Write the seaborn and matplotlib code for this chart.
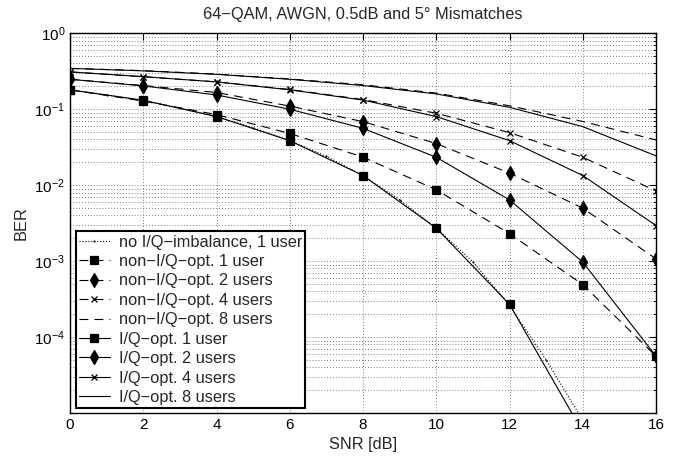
import numpy as np
import matplotlib
matplotlib.use('Agg')
import matplotlib.pyplot as plt
import seaborn as sns
from matplotlib.ticker import LogLocator, NullFormatter

# data (BER vs SNR)
snr = [0, 2, 4, 6, 8, 10, 12, 14, 16]
snr_fine = [0, 1, 2, 3, 4, 5, 6, 7, 8, 9, 10, 11, 12, 13, 14]

no_iq_1 = [0.18, 0.155, 0.131, 0.104, 0.080, 0.057, 0.0386, 0.024, 0.0134, 0.0064,
           0.00272, 0.00098, 0.00026, 5e-5, 8e-6]

non_iq_1 = [0.18, 0.128, 0.085, 0.048, 0.0234, 0.0087, 0.0023, 4.9e-4, 5.6e-5]
non_iq_2 = [0.248, 0.205, 0.166, 0.11, 0.0687, 0.0353, 0.0144, 0.00498, 0.00107]
non_iq_4 = [0.31, 0.268, 0.229, 0.182, 0.134, 0.0886, 0.0492, 0.0233, 0.0084]
non_iq_8 = [0.345, 0.322, 0.29, 0.25, 0.21, 0.163, 0.111, 0.069, 0.0394]

iq_1 = [0.18, 0.131, 0.080, 0.0386, 0.0134, 0.00272, 0.00027, 5.6e-6, np.nan]
iq_2 = [0.248, 0.203, 0.154, 0.1, 0.056, 0.0233, 0.0064, 9.7e-4, 5.6e-5]
iq_4 = [0.31, 0.268, 0.229, 0.18, 0.132, 0.080, 0.0386, 0.0134, 0.00294]
iq_8 = [0.345, 0.32, 0.288, 0.248, 0.205, 0.159, 0.106, 0.059, 0.0243]

sns.set_theme(style='white')
plt.rcParams['font.family'] = ['Liberation Sans', 'DejaVu Sans']
plt.rcParams['mathtext.fontset'] = 'custom'
plt.rcParams['mathtext.rm'] = 'Liberation Sans'
plt.rcParams['mathtext.it'] = 'Liberation Sans:italic'

fig = plt.figure(figsize=(6.83, 4.59), dpi=100)
ax = fig.add_axes([0.1025, 0.1002, 0.858, 0.8273])

dash = (0, (8, 5.5))
series = [
    (snr_fine, no_iq_1, ':', '.', 1.2, 'no I/Q\u2212imbalance, 1 user'),
    (snr, non_iq_1, dash, 's', 6, 'non\u2212I/Q\u2212opt. 1 user'),
    (snr, non_iq_2, dash, 'd', 7, 'non\u2212I/Q\u2212opt. 2 users'),
    (snr, non_iq_4, dash, 'x', 4.5, 'non\u2212I/Q\u2212opt. 4 users'),
    (snr, non_iq_8, dash, None, 0, 'non\u2212I/Q\u2212opt. 8 users'),
    (snr, iq_1, '-', 's', 6, 'I/Q\u2212opt. 1 user'),
    (snr, iq_2, '-', 'd', 7, 'I/Q\u2212opt. 2 users'),
    (snr, iq_4, '-', 'x', 4.5, 'I/Q\u2212opt. 4 users'),
    (snr, iq_8, '-', None, 0, 'I/Q\u2212opt. 8 users'),
]

for x, y, ls, mk, ms, lab in series:
    sns.lineplot(x=x, y=y, ax=ax, color='black', linestyle=ls, linewidth=0.8,
                 marker=mk, markersize=ms, markeredgewidth=0.9, markerfacecolor='black',
                 markeredgecolor='black', label=lab, estimator=None, sort=False)

ax.set_yscale('log')
ax.set_xlim(0, 16)
ax.set_ylim(1e-5, 1)
ax.set_xticks(snr)
ax.set_xticklabels([str(v) for v in snr])
ax.set_yticks([1e-4, 1e-3, 1e-2, 1e-1, 1e0])
ax.yaxis.set_minor_locator(LogLocator(base=10, subs=np.arange(2, 10), numticks=20))
ax.yaxis.set_minor_formatter(NullFormatter())

ax.grid(True, which='major', linestyle=(0, (1, 2.5)), color='#555555', linewidth=0.6)
ax.grid(True, which='minor', axis='y', linestyle=(0, (1, 2.5)), color='#555555', linewidth=0.6)
ax.tick_params(which='both', direction='in', top=True, right=True, labelsize=11, colors='black')
ax.tick_params(which='major', length=5, width=0.8)
ax.tick_params(which='minor', length=2.5, width=0.6)
for s in ax.spines.values():
    s.set_color('black')
    s.set_linewidth(1.0)

ax.set_title('64\u2212QAM, AWGN, 0.5dB and 5\u00b0 Mismatches', fontsize=11.8, pad=10)
ax.set_xlabel('SNR [dB]', fontsize=11.8, labelpad=4)
ax.set_ylabel('BER', fontsize=11.8, labelpad=4)

leg = ax.legend(loc='lower left', bbox_to_anchor=(0.0102, 0.0124), borderaxespad=0,
                fontsize=11.8, frameon=True, fancybox=False, framealpha=1,
                edgecolor='black', handlelength=1.85, handletextpad=0.55,
                labelspacing=0.27, borderpad=0.2)
leg.get_frame().set_linewidth(1.5)

fig.savefig('out.png', dpi=100)
